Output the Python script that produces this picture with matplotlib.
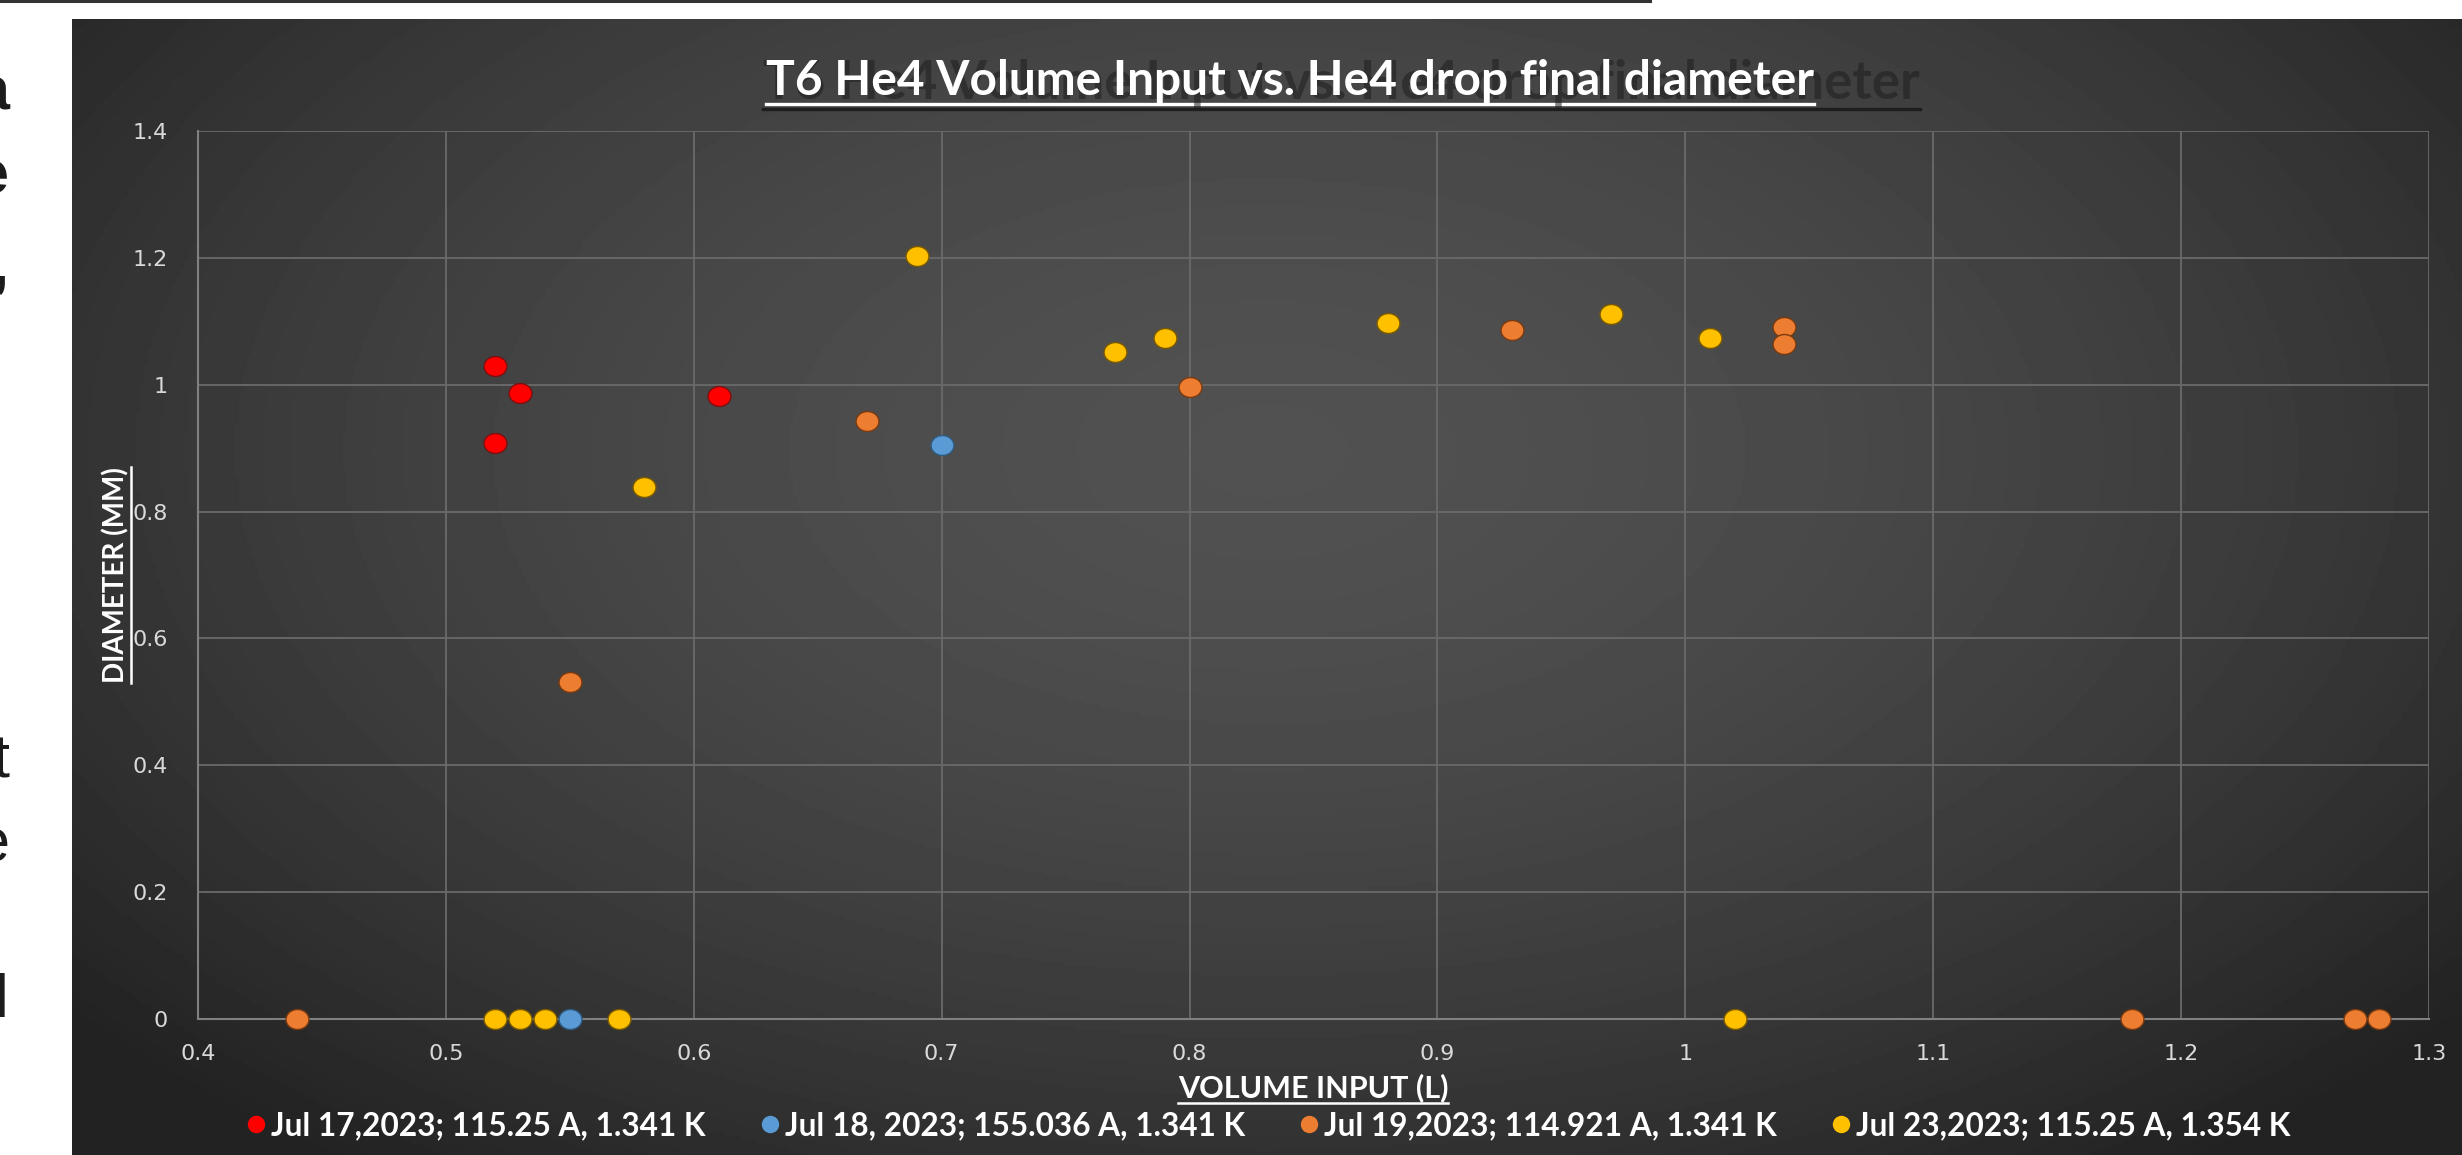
import numpy as np
import matplotlib
matplotlib.use("Agg")
from matplotlib import pyplot as plt
from matplotlib.path import Path
from matplotlib.lines import Line2D
from matplotlib import ticker

# data
jul17_x = [0.52, 0.53, 0.52, 0.61]
jul17_y = [1.03, 0.987, 0.908, 0.982]
jul18_x = [0.55, 0.70]
jul18_y = [0.0, 0.905]
jul19_x = [0.44, 0.55, 0.67, 0.80, 0.93, 1.04, 1.04, 1.18, 1.27, 1.28]
jul19_y = [0.0, 0.532, 0.943, 0.997, 1.086, 1.091, 1.064, 0.0, 0.0, 0.0]
jul23_x = [0.52, 0.53, 0.54, 0.57, 0.58, 0.69, 0.77, 0.79, 0.88, 0.97, 1.01, 1.02]
jul23_y = [0.0, 0.0, 0.0, 0.0, 0.838, 1.203, 1.051, 1.073, 1.098, 1.111, 1.073, 0.0]

labels = ["Jul 17,2023; 115.25 A, 1.341 K",
          "Jul 18, 2023; 155.036 A, 1.341 K",
          "Jul 19,2023; 114.921 A, 1.341 K",
          "Jul 23,2023; 115.25 A, 1.354 K"]
colors = ["#ff0000", "#5b9bd5", "#ed7d31", "#ffc000"]
edges = ["#7a1010", "#2f5a80", "#7a3a10", "#7a5a00"]

title = "T6 He4 Volume Input vs. He4 drop final diameter"
xlabel = "VOLUME INPUT (L)"
ylabel = "DIAMETER (MM)"

W, H = 2462, 1155
fig = plt.figure(figsize=(W / 100, H / 100), dpi=100)
fig.patch.set_facecolor("white")

CAL = ["Lato", "DejaVu Sans"]

# bits of slide text peeking out on the left
frag = [("a", 110, "bold"), ("e", 193, "bold"), (",", 285, "bold"),
        ("t", 777, "normal"), ("e", 861, "normal"), ("l", 1017, "bold")]
for ch, base, wt in frag:
    fig.text(9 / W, 1 - base / H, ch, ha="right", va="baseline", fontsize=44,
             family="Liberation Sans", weight=wt, color="#1c1c1c")

# thin dark rule along the top
fig.add_artist(Line2D([0, 1650 / W], [1 - 1 / H, 1 - 1 / H], transform=fig.transFigure,
                      color="#333333", lw=2.2))

# dark gradient panel
bg = fig.add_axes([72 / W, 0, 1 - 72 / W, (H - 19) / H])
gx, gy = np.meshgrid(np.linspace(0, 1, 600), np.linspace(0, 1, 300))
r = np.sqrt(((gx - 0.5) / 0.75) ** 2 + ((gy - 0.38) / 0.9) ** 2)
shade = np.clip(0x51 - (0x51 - 0x24) * (r / 0.85) ** 1.7, 0x22, 0x51) / 255
bg.imshow(shade, cmap="gray", vmin=0, vmax=1, aspect="auto", extent=[0, 1, 1, 0])
bg.axis("off")

ax = fig.add_axes([198 / W, 1 - 1019 / H, (2429 - 198) / W, (1019 - 131) / H])
ax.set_facecolor("none")
ax.set_xlim(0.4, 1.3)
ax.set_ylim(0, 1.4)
ax.xaxis.set_major_locator(ticker.MultipleLocator(0.1))
ax.yaxis.set_major_locator(ticker.MultipleLocator(0.2))
fmt = ticker.FuncFormatter(lambda v, p: "%g" % round(v, 2))
ax.xaxis.set_major_formatter(fmt)
ax.yaxis.set_major_formatter(fmt)
ax.grid(True, color="#6a6a6a", lw=1.3)
ax.set_axisbelow(True)
for s in ["top", "right"]:
    ax.spines[s].set_visible(False)
for s in ["left", "bottom"]:
    ax.spines[s].set_color("#808080")
    ax.spines[s].set_linewidth(1.5)
ax.tick_params(length=0, labelsize=16, labelcolor="#d9d9d9")
ax.tick_params(axis="x", pad=18)
ax.tick_params(axis="y", pad=22)

circ = Path.unit_circle()
ell = Path(circ.vertices * np.array([1.15, 1.0]), circ.codes)

series = [(jul17_x, jul17_y), (jul18_x, jul18_y), (jul19_x, jul19_y), (jul23_x, jul23_y)]
for (xs, ys), c, e, lab in zip(series, colors, edges, labels):
    ax.scatter(xs, ys, s=16.5 ** 2, marker=ell, color=c, edgecolors=e, linewidths=1.0,
               zorder=3, clip_on=False, label=lab)

handles = [Line2D([], [], ls="", marker="o", markersize=11.5, color=c) for c in colors]
leg = fig.legend(handles, labels, ncol=4, loc="center", bbox_to_anchor=(1269 / W, 1 - 1126 / H),
                 frameon=False, prop={"family": CAL, "weight": "bold", "size": 22.8},
                 handlelength=0.55, handletextpad=0.2, columnspacing=1.75)
for t in leg.get_texts():
    t.set_color("white")

# title with its dark ghost
ttl_ghost = fig.text(763 / W, 1 - 99 / H, title, ha="left", va="baseline", fontsize=38,
                     family=CAL, weight="bold", color="#1e1e1e", alpha=0.55)
ttl = fig.text(1290 / W, 1 - 95 / H, title, ha="center", va="baseline", fontsize=34.5,
               family=CAL, weight="bold", color="white")
xl = fig.text(1313 / W, 1 - 1097 / H, xlabel, ha="center", va="baseline", fontsize=22,
              family=CAL, weight="bold", color="white")
yl = fig.text(116 / W, 1 - 575 / H, ylabel, ha="center", va="center", rotation=90,
              fontsize=20, family=CAL, weight="bold", color="white")

fig.canvas.draw()
rend = fig.canvas.get_renderer()


def underline(t, off, col, lw, vertical=False):
    bb = t.get_window_extent(rend)
    if vertical:
        x = bb.x1 + off
        fig.add_artist(Line2D([x / W, x / W], [bb.y0 / H, bb.y1 / H],
                              transform=fig.transFigure, color=col, lw=lw))
    else:
        y = bb.y0 - off
        fig.add_artist(Line2D([bb.x0 / W, bb.x1 / W], [y / H, y / H],
                              transform=fig.transFigure, color=col, lw=lw))


underline(ttl_ghost, 1, "#1e1e1e", 2.4)
underline(ttl, 1, "white", 2.4)
underline(xl, 1, "white", 1.8)
underline(yl, 1, "white", 1.8, vertical=True)

fig.savefig("out.png", dpi=100)
